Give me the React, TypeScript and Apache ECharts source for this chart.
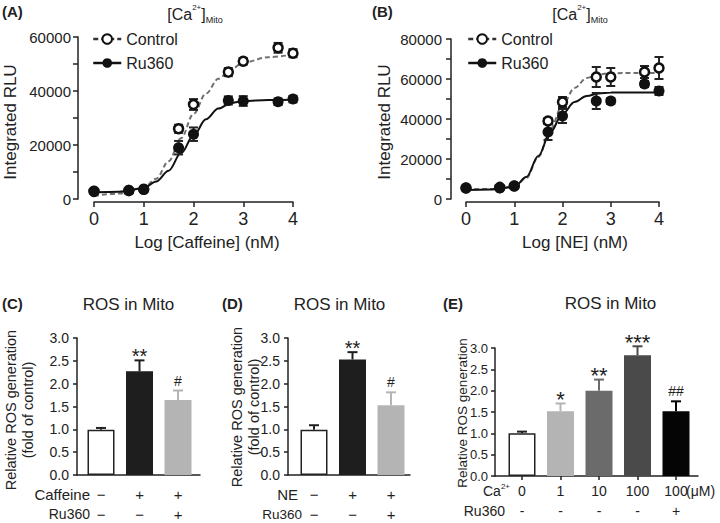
import React, { useEffect, useRef } from 'react';
import * as echarts from 'echarts';

const NARROW = "'Liberation Sans', Arial, Helvetica, sans-serif";
const REG = "'Liberation Sans', Arial, Helvetica, sans-serif";
const INK = '#222222';

// ---------- Panels A & B : dose-response ----------
const logDose = [0, 0.7, 1, 1.7, 2, 2.7, 3, 3.7, 4];
const fitX = [0, 0.5, 1, 1.25, 1.5, 1.75, 2, 2.25, 2.5, 2.75, 3, 3.5, 4];

const aControl = [2800, 3100, 3600, 26000, 35000, 47000, 51000, 56000, 54000];
const aControlErr = [300, 300, 300, 1500, 2000, 1500, 1200, 1800, 1500];
const aRu360 = [3000, 3200, 3500, 19000, 24000, 36500, 36300, 36000, 37000];
const aRu360Err = [300, 300, 300, 2500, 2500, 1500, 1800, 1200, 1200];
const aControlFit = [1200, 2000, 4200, 7500, 14000, 22500, 31500, 39000, 44500, 48000, 50500, 52500, 53500];
const aRu360Fit = [2500, 2700, 4000, 6500, 10500, 17000, 23500, 29500, 33500, 35500, 36300, 36700, 36800];

const bControl = [5500, 5800, 6500, 39000, 48500, 61000, 61000, 63500, 65500];
const bControlErr = [300, 300, 300, 1500, 2500, 5000, 4500, 3000, 5500];
const bRu360 = [5500, 5500, 6500, 33500, 41500, 49000, 49000, 57500, 54000];
const bRu360Err = [300, 300, 300, 4000, 3500, 4000, 1500, 1500, 2000];
const bControlFit = [4800, 5000, 6200, 10500, 21000, 35000, 47000, 55500, 60500, 62300, 62900, 63000, 63000];
const bRu360Fit = [4500, 4800, 6000, 11000, 21500, 33500, 42500, 48500, 51500, 52800, 53200, 53300, 53300];

const yTicksA = [0, 20000, 40000, 60000];
const yTicksB = [0, 20000, 40000, 60000, 80000];

// ---------- Panel C ----------
const cRow1 = ['\u2212', '+', '+'];
const cRow2 = ['\u2212', '\u2212', '+'];
const cValues = [0.99, 2.27, 1.64];
const cErr = [0.04, 0.24, 0.21];
const cMarks = ['', '**', '#'];

// ---------- Panel D ----------
const dRow1 = ['\u2212', '+', '+'];
const dRow2 = ['\u2212', '\u2212', '+'];
const dValues = [0.99, 2.53, 1.53];
const dErr = [0.1, 0.16, 0.28];
const dMarks = ['', '**', '#'];

// ---------- Panel E ----------
const eCa = ['0', '1', '10', '100', '100'];
const eRu = ['-', '-', '-', '-', '+'];
const eValues = [1.0, 1.52, 2.0, 2.83, 1.52];
const eErr = [0.04, 0.18, 0.26, 0.21, 0.23];
const eMarks = ['', '*', '**', '***', '##'];

// styles
const cdColors = ['#ffffff', '#1e1e1e', '#b4b4b4'];
const eColors = ['#ffffff', '#b4b4b4', '#6b6b6b', '#4a4a4a', '#050505'];

const axisLine = { show: true, onZero: false, lineStyle: { color: INK, width: 1.5 } };
const tick = (len: number) => ({ show: true, inside: false, length: len, lineStyle: { color: INK, width: 1.5 } });
const noSplit = { show: false };

const rangeBar = (cap: number) => (params: any, api: any) => {
  const x = api.value(0);
  const a = api.coord([x, api.value(1)]);
  const b = api.coord([x, api.value(2)]);
  const st = { stroke: INK, lineWidth: 2 };
  return {
    type: 'group',
    children: [
      { type: 'line', shape: { x1: a[0], y1: a[1], x2: b[0], y2: b[1] }, style: st },
      { type: 'line', shape: { x1: a[0] - cap / 2, y1: a[1], x2: a[0] + cap / 2, y2: a[1] }, style: st },
      { type: 'line', shape: { x1: b[0] - cap / 2, y1: b[1], x2: b[0] + cap / 2, y2: b[1] }, style: st },
    ],
  };
};

const upperBar = (marks: string[], colors: string[], starSize: number, hashSize: number) => (params: any, api: any) => {
  const i = params.dataIndex;
  const x = api.value(0);
  const a = api.coord([x, api.value(1)]);
  const b = api.coord([x, api.value(2)]);
  const stroke = colors[i] === '#ffffff' ? INK : colors[i];
  const st = { stroke, lineWidth: 2 };
  const children: any[] = [
    { type: 'line', shape: { x1: a[0], y1: a[1], x2: b[0], y2: b[1] }, style: st },
    { type: 'line', shape: { x1: b[0] - 5, y1: b[1], x2: b[0] + 5, y2: b[1] }, style: st },
  ];
  const m = marks[i];
  if (m) {
    const isHash = m.charAt(0) === '#';
    children.push({
      type: 'text',
      x: b[0],
      y: b[1] - (isHash ? 10 : 4),
      style: {
        text: m,
        fontSize: isHash ? hashSize : starSize,
        fontFamily: REG,
        fill: INK,
        align: 'center',
        textAlign: 'center',
        verticalAlign: 'middle',
        textVerticalAlign: 'middle',
      },
    });
  }
  return { type: 'group', children };
};

const txt = (
  text: string,
  x: number,
  y: number,
  fontSize: number,
  family: string,
  align: string = 'center',
  extra: any = {},
  rotation = 0
) => ({
  type: 'text',
  x,
  y,
  rotation,
  style: {
    text,
    fontSize,
    fontFamily: family,
    fill: INK,
    align,
    textAlign: align,
    verticalAlign: 'middle',
    textVerticalAlign: 'middle',
    ...extra,
  },
});

const caTitleRich = {
  sup: { fontSize: 8, fontFamily: NARROW, fill: INK, verticalAlign: 'top', lineHeight: 9 },
  sub: { fontSize: 9, fontFamily: NARROW, fill: INK, verticalAlign: 'bottom', lineHeight: 10 },
};

function buildOption(): any {
  const fitLine = (name: string, xi: number, ys: number[], dashed: boolean) => ({
    type: 'line',
    name,
    xAxisIndex: xi,
    yAxisIndex: xi,
    data: fitX.map((x, i) => [x, ys[i]]),
    smooth: 0.35,
    smoothMonotone: 'x',
    symbol: 'none',
    lineStyle: dashed ? { color: '#707070', width: 2, type: [5, 3] } : { color: '#111111', width: 2 },
    itemStyle: dashed ? { color: '#ffffff', borderColor: '#111111', borderWidth: 2 } : { color: '#111111' },
    z: 2,
  });
  const errSeries = (name: string, xi: number, vals: number[], errs: number[]) => ({
    type: 'custom',
    name,
    xAxisIndex: xi,
    yAxisIndex: xi,
    data: logDose.map((x, i) => [x, vals[i] - errs[i], vals[i] + errs[i]]),
    encode: { x: 0, y: [1, 2] },
    renderItem: rangeBar(9),
    z: 3,
  });
  const pts = (name: string, xi: number, vals: number[], open: boolean) => ({
    type: 'scatter',
    name,
    xAxisIndex: xi,
    yAxisIndex: xi,
    data: logDose.map((x, i) => [x, vals[i]]),
    symbol: 'circle',
    symbolSize: open ? 9 : 11,
    itemStyle: open
      ? { color: '#ffffff', borderColor: '#111111', borderWidth: 2.5, opacity: 1 }
      : { color: '#111111', opacity: 1 },
    z: open ? 4 : 5,
  });
  const barSeries = (xi: number, vals: number[], colors: string[]) => ({
    type: 'bar',
    xAxisIndex: xi,
    yAxisIndex: xi,
    barWidth: 27,
    data: vals.map((v, i) => ({
      value: v,
      itemStyle: {
        color: colors[i],
        borderColor: colors[i] === '#ffffff' ? INK : colors[i],
        borderWidth: colors[i] === '#ffffff' ? 1.5 : 0,
      },
    })),
    z: 2,
  });
  const barErr = (
    xi: number,
    vals: number[],
    errs: number[],
    marks: string[],
    colors: string[],
    starSize: number,
    hashSize: number
  ) => ({
    type: 'custom',
    xAxisIndex: xi,
    yAxisIndex: xi,
    data: vals.map((v, i) => [i, v, v + errs[i]]),
    encode: { x: 0, y: [1, 2] },
    renderItem: upperBar(marks, colors, starSize, hashSize),
    z: 3,
  });

  const topX = (gi: number) => ({
    gridIndex: gi,
    type: 'value',
    min: 0,
    max: 4,
    interval: 1,
    offset: 3,
    axisLine,
    axisTick: tick(5),
    splitLine: noSplit,
    axisLabel: { fontFamily: NARROW, fontSize: 18, color: INK, margin: 8 },
  });
  const topY = (gi: number, max: number, offset: number, margin: number, labelled: number[]) => ({
    gridIndex: gi,
    type: 'value',
    min: 0,
    max,
    interval: 10000,
    offset,
    axisLine,
    axisTick: tick(5),
    splitLine: noSplit,
    axisLabel: {
      fontFamily: NARROW,
      fontSize: 15,
      color: INK,
      margin,
      formatter: (v: number) => (labelled.indexOf(v) >= 0 ? String(v) : ''),
    },
  });
  const catX = (gi: number, cats: string[], margin: number, fontSize: number, ticks: boolean) => ({
    gridIndex: gi,
    type: 'category',
    data: cats,
    axisLine: { show: false },
    axisTick: ticks ? { show: true, alignWithLabel: true, length: 4, lineStyle: { color: INK, width: 1.5 } } : { show: false },
    splitLine: noSplit,
    axisLabel: { fontFamily: NARROW, fontSize, lineHeight: 20, color: INK, margin, interval: 0 },
  });
  const barY = (gi: number, offset: number, fontSize: number, margin: number) => ({
    gridIndex: gi,
    type: 'value',
    min: 0,
    max: 3,
    interval: 0.5,
    offset,
    axisLine,
    axisTick: tick(4),
    splitLine: noSplit,
    axisLabel: { fontFamily: NARROW, fontSize, color: INK, margin, formatter: (v: number) => v.toFixed(1) },
  });
  const frameX = (gi: number) => ({
    gridIndex: gi,
    type: 'value',
    min: 0,
    max: 1,
    axisLine,
    axisTick: { show: false },
    axisLabel: { show: false },
    splitLine: noSplit,
  });
  const frameY = (gi: number) => ({ gridIndex: gi, type: 'value', min: 0, max: 1, show: false });

  const g = (left: number, top: number, width: number, height: number) => ({
    left,
    top,
    width,
    height,
    containLabel: false,
    outerBoundsMode: 'none',
  });

  const legendBase = (left: number) => ({
    data: [
      {
        name: 'Control',
        itemStyle: { color: '#ffffff', borderColor: '#111111', borderWidth: 2 },
        lineStyle: { color: '#333333', width: 2.5, type: [5, 3] },
      },
      { name: 'Ru360', itemStyle: { color: '#111111' }, lineStyle: { color: '#111111', width: 2.5 } },
    ],
    left,
    top: 31,
    orient: 'vertical',
    padding: 0,
    itemWidth: 28,
    itemHeight: 12,
    itemGap: 8,
    selectedMode: false,
    textStyle: { fontFamily: NARROW, fontSize: 16, color: INK },
  });

  return {
    animation: false,
    backgroundColor: '#ffffff',
    grid: [
      g(94, 37, 199, 162), // A
      g(466, 39, 193, 160), // B
      g(81.75, 338, 115.5, 137), // C bars
      g(77, 338, 123, 137), // C frame
      g(294.75, 338, 115.5, 137), // D bars
      g(288, 338, 122, 137), // D frame
      g(502.75, 348, 192.5, 128), // E bars
      g(495, 348, 203, 128), // E frame
    ],
    xAxis: [
      topX(0),
      topX(1),
      catX(2, cRow1.map((a, i) => a + '\n' + cRow2[i]), 9, 15, false),
      frameX(3),
      catX(4, dRow1.map((a, i) => a + '\n' + dRow2[i]), 9, 15, false),
      frameX(5),
      catX(6, eCa.map((a, i) => a + '\n' + eRu[i]), 5, 14, true),
      frameX(7),
    ],
    yAxis: [
      topY(0, 60000, 16, 7, yTicksA),
      topY(1, 80000, 15, 9, yTicksB),
      barY(2, 4.75, 14, 8),
      frameY(3),
      barY(4, 6.75, 14, 8),
      frameY(5),
      barY(6, 7.75, 13, 7),
      frameY(7),
    ],
    legend: [legendBase(92), legendBase(467)],
    series: [
      fitLine('Control', 0, aControlFit, true),
      fitLine('Ru360', 0, aRu360Fit, false),
      errSeries('A Control SEM', 0, aControl, aControlErr),
      errSeries('A Ru360 SEM', 0, aRu360, aRu360Err),
      pts('A Control points', 0, aControl, true),
      pts('A Ru360 points', 0, aRu360, false),

      fitLine('Control', 1, bControlFit, true),
      fitLine('Ru360', 1, bRu360Fit, false),
      errSeries('B Control SEM', 1, bControl, bControlErr),
      errSeries('B Ru360 SEM', 1, bRu360, bRu360Err),
      pts('B Control points', 1, bControl, true),
      pts('B Ru360 points', 1, bRu360, false),

      barSeries(2, cValues, cdColors),
      barErr(2, cValues, cErr, cMarks, cdColors, 20, 14),
      barSeries(4, dValues, cdColors),
      barErr(4, dValues, dErr, dMarks, cdColors, 20, 14),
      barSeries(6, eValues, eColors),
      barErr(6, eValues, eErr, eMarks, eColors, 22, 14),
    ],
    graphic: {
      elements: [
        txt('(A)', 2, 11, 15, REG, 'left', { fontWeight: 'bold' }),
        txt('(B)', 372, 11, 15, REG, 'left', { fontWeight: 'bold' }),
        txt('[Ca{sup|2+}]{sub|Mito}', 195, 14, 16, NARROW, 'center', { lineHeight: 21, rich: caTitleRich }),
        txt('[Ca{sup|2+}]{sub|Mito}', 580, 14, 16, NARROW, 'center', { lineHeight: 21, rich: caTitleRich }),
        txt('Integrated RLU', 10, 122, 17, REG, 'center', {}, Math.PI / 2),
        txt('Integrated RLU', 384, 122, 17, REG, 'center', {}, Math.PI / 2),
        txt('Log [Caffeine] (nM)', 207, 242, 17, NARROW),
        txt('Log [NE] (nM)', 575, 242, 17, NARROW),

        txt('(C)', 2, 303, 15, REG, 'left', { fontWeight: 'bold' }),
        txt('(D)', 222, 303, 15, REG, 'left', { fontWeight: 'bold' }),
        txt('(E)', 443, 303, 15, REG, 'left', { fontWeight: 'bold' }),
        txt('ROS in Mito', 128.5, 304, 17, REG),
        txt('ROS in Mito', 339.5, 304, 17, REG),
        txt('ROS in Mito', 610.5, 303, 17, REG),
        txt('Relative ROS generation\n(fold of control)', 19.5, 410, 14.5, REG, 'center', { lineHeight: 17 }, Math.PI / 2),
        txt('Relative ROS generation\n(fold of control)', 245.5, 407, 14.5, REG, 'center', { lineHeight: 17 }, Math.PI / 2),
        txt('Relative ROS generation', 462, 413, 13.5, REG, 'center', {}, Math.PI / 2),

        txt('Caffeine', 90, 494, 15, NARROW, 'right'),
        txt('Ru360', 90, 514, 14, NARROW, 'right'),
        txt('NE', 298, 494, 15, NARROW, 'right'),
        txt('Ru360', 302, 514, 13.5, NARROW, 'right'),
        txt('Ca{sup|2+}', 510, 491, 14, NARROW, 'right', { lineHeight: 18, rich: caTitleRich }),
        txt('Ru360', 505, 511, 14, NARROW, 'right'),
        txt('(\u03bcM)', 686, 491, 14, NARROW, 'left'),
      ],
    },
  };
}

export default function App() {
  const ref = useRef<HTMLDivElement>(null);
  useEffect(() => {
    const chart = echarts.init(ref.current as HTMLDivElement, null, { renderer: 'svg' });
    chart.setOption(buildOption());
    return () => chart.dispose();
  }, []);
  return (
    <div
      ref={ref}
      style={{ position: 'fixed', left: 0, top: 0, width: 720, height: 523, background: '#ffffff' }}
    />
  );
}
